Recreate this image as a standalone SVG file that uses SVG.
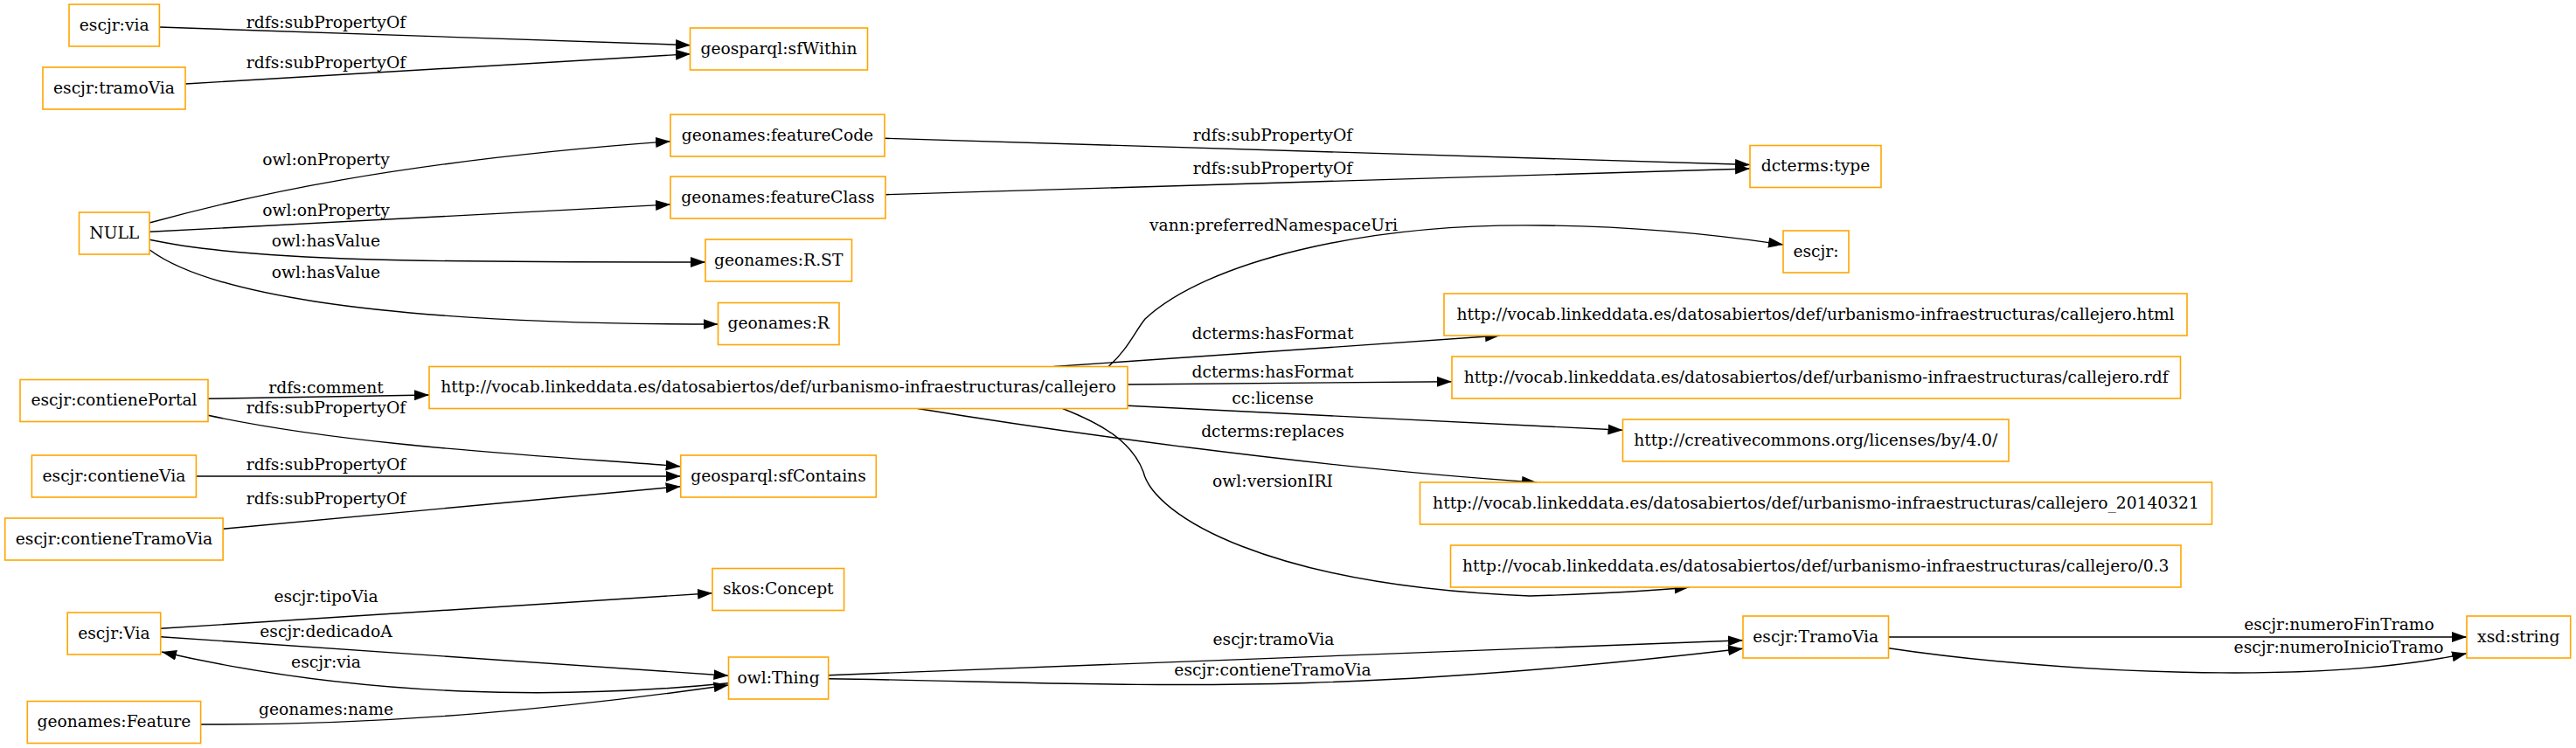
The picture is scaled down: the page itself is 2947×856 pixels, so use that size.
<svg xmlns="http://www.w3.org/2000/svg" width="2947" height="856" viewBox="0 0 2947 856">
<defs>
<marker id="ah" markerUnits="userSpaceOnUse" markerWidth="18" markerHeight="13" refX="17" refY="6" orient="auto">
<path d="M0,0 L17,6 L0,12 z" fill="#000"/>
</marker>
<style>
.n rect{fill:#fff;stroke:#FFA500;stroke-width:1.6}
text{font-family:"DejaVu Serif","Liberation Serif",serif;font-size:18.7px;fill:#000;text-anchor:middle}
.e path{fill:none;stroke:#000;stroke-width:1.4;marker-end:url(#ah)}
</style>
</defs>
<rect width="2947" height="856" fill="#fff"/>
<g id="edges" class="e">
<path d="M182.4,31 L790,51.7"/>
<path d="M212,96 L790,61.7"/>
<path d="M171,255 C280,225 450,185 767,161.7"/>
<path d="M171,265.3 L767,234"/>
<path d="M171,274.3 C290,300 500,300 807,300"/>
<path d="M171,285.7 C230,330 400,371 821.5,371"/>
<path d="M1012,158.3 L2002,188.5"/>
<path d="M1013,222.7 L2002,193"/>
<path d="M1268,419.5 C1290,400 1298,380 1310,365 C1380,300 1560,255 1765,258 C1870,259 1960,268 2040,280"/>
<path d="M1205.4,419.5 L1716,384"/>
<path d="M1290,440 L1661,436.7"/>
<path d="M1290,464.3 L1856.5,492.3"/>
<path d="M1049.7,467.5 C1200,492 1500,535 1758,552"/>
<path d="M1215.6,467.5 C1260,485 1295,505 1308,540 C1320,590 1450,670 1750,682 C1820,680 1880,677 1932.5,672"/>
<path d="M238,456.3 L491,452"/>
<path d="M238,475.3 C400,510 600,520 778.7,533.7"/>
<path d="M224.5,545 L778.7,545"/>
<path d="M255,605.3 L778.7,556.7"/>
<path d="M183.7,719.3 L815,678.7"/>
<path d="M183.7,728.7 L833.5,773.3"/>
<path d="M833.5,781.7 C650,800 420,800 185,746"/>
<path d="M229.6,829 C450,830 650,810 833.5,784"/>
<path d="M947.7,772.7 L1994,732.7"/>
<path d="M947.7,776.7 C1300,782 1500,800 1994,742.3"/>
<path d="M2160.5,729 L2822,729"/>
<path d="M2160.5,741.7 C2350,770 2650,785 2822,747.7"/>
<text x="373" y="31.5">rdfs:subPropertyOf</text>
<text x="373" y="77.5">rdfs:subPropertyOf</text>
<text x="373" y="189">owl:onProperty</text>
<text x="373" y="246.5">owl:onProperty</text>
<text x="373" y="281.5">owl:hasValue</text>
<text x="373" y="317.5">owl:hasValue</text>
<text x="1456" y="160.5">rdfs:subPropertyOf</text>
<text x="1456" y="199">rdfs:subPropertyOf</text>
<text x="1457" y="263.5">vann:preferredNamespaceUri</text>
<text x="1456" y="387.5">dcterms:hasFormat</text>
<text x="1456" y="431.7">dcterms:hasFormat</text>
<text x="1456" y="461.7">cc:license</text>
<text x="1456" y="499.5">dcterms:replaces</text>
<text x="1456" y="556.5">owl:versionIRI</text>
<text x="373" y="450">rdfs:comment</text>
<text x="373" y="473">rdfs:subPropertyOf</text>
<text x="373" y="538">rdfs:subPropertyOf</text>
<text x="373" y="577">rdfs:subPropertyOf</text>
<text x="373" y="689">escjr:tipoVia</text>
<text x="373" y="729">escjr:dedicadoA</text>
<text x="373" y="764">escjr:via</text>
<text x="373" y="818">geonames:name</text>
<text x="1457" y="737.5">escjr:tramoVia</text>
<text x="1456" y="772.5">escjr:contieneTramoVia</text>
<text x="2676" y="721">escjr:numeroFinTramo</text>
<text x="2675.5" y="746.5">escjr:numeroInicioTramo</text>
</g>
<g id="n_via" class="n"><rect x="79" y="5" width="103.4" height="48"/><text x="130.7" y="34.5">escjr:via</text></g>
<g id="n_tramoViaProp" class="n"><rect x="49" y="77" width="163" height="48"/><text x="130.5" y="106.5">escjr:tramoVia</text></g>
<g id="n_sfWithin" class="n"><rect x="789.5" y="32" width="203" height="48"/><text x="891" y="61.5">geosparql:sfWithin</text></g>
<g id="n_featureCode" class="n"><rect x="767" y="131" width="245" height="48"/><text x="889.5" y="160.5">geonames:featureCode</text></g>
<g id="n_featureClass" class="n"><rect x="767" y="202" width="246" height="48"/><text x="890" y="231.5">geonames:featureClass</text></g>
<g id="n_null" class="n"><rect x="90.5" y="243" width="80.5" height="48"/><text x="130.75" y="272.5">NULL</text></g>
<g id="n_rst" class="n"><rect x="807" y="274" width="167.5" height="48"/><text x="890.7" y="303.5">geonames:R.ST</text></g>
<g id="n_r" class="n"><rect x="821.5" y="346.5" width="138.5" height="48"/><text x="890.7" y="376">geonames:R</text></g>
<g id="n_dctype" class="n"><rect x="2002" y="166.5" width="150" height="48"/><text x="2077" y="196">dcterms:type</text></g>
<g id="n_escjr" class="n"><rect x="2040" y="264" width="75" height="48"/><text x="2077.5" y="293.5">escjr:</text></g>
<g id="n_callejero" class="n"><rect x="491" y="419.5" width="799" height="48"/><text x="890.5" y="449">http://vocab.linkeddata.es/datosabiertos/def/urbanismo-infraestructuras/callejero</text></g>
<g id="n_html" class="n"><rect x="1652" y="336" width="850" height="48"/><text x="2077" y="365.5">http://vocab.linkeddata.es/datosabiertos/def/urbanismo-infraestructuras/callejero.html</text></g>
<g id="n_rdf" class="n"><rect x="1661" y="408" width="833.5" height="48"/><text x="2077.7" y="437.5">http://vocab.linkeddata.es/datosabiertos/def/urbanismo-infraestructuras/callejero.rdf</text></g>
<g id="n_cc" class="n"><rect x="1856.5" y="480" width="441.5" height="48"/><text x="2077.25" y="509.5">http://creativecommons.org/licenses/by/4.0/</text></g>
<g id="n_old" class="n"><rect x="1624.5" y="552" width="906" height="48"/><text x="2077.5" y="581.5">http://vocab.linkeddata.es/datosabiertos/def/urbanismo-infraestructuras/callejero_20140321</text></g>
<g id="n_v03" class="n"><rect x="1659.5" y="624" width="835.5" height="48"/><text x="2077.25" y="653.5">http://vocab.linkeddata.es/datosabiertos/def/urbanismo-infraestructuras/callejero/0.3</text></g>
<g id="n_contienePortal" class="n"><rect x="23" y="434.5" width="215" height="48"/><text x="130.5" y="464">escjr:contienePortal</text></g>
<g id="n_sfContains" class="n"><rect x="778.7" y="521" width="223.6" height="48"/><text x="890.5" y="550.5">geosparql:sfContains</text></g>
<g id="n_contieneVia" class="n"><rect x="36.4" y="521" width="188" height="48"/><text x="130.4" y="550.5">escjr:contieneVia</text></g>
<g id="n_contieneTramoVia" class="n"><rect x="5.7" y="593" width="249.4" height="48"/><text x="130.4" y="622.5">escjr:contieneTramoVia</text></g>
<g id="n_concept" class="n"><rect x="815" y="650.5" width="150.6" height="48"/><text x="890.3" y="680">skos:Concept</text></g>
<g id="n_Via" class="n"><rect x="77.2" y="701" width="106.5" height="48"/><text x="130.45" y="730.5">escjr:Via</text></g>
<g id="n_thing" class="n"><rect x="833.5" y="752" width="114.2" height="48"/><text x="890.6" y="781.5">owl:Thing</text></g>
<g id="n_feature" class="n"><rect x="31.3" y="802.5" width="198.3" height="48"/><text x="130.45" y="832">geonames:Feature</text></g>
<g id="n_TramoVia" class="n"><rect x="1994" y="705" width="166.5" height="48"/><text x="2077.25" y="734.5">escjr:TramoVia</text></g>
<g id="n_string" class="n"><rect x="2822" y="705" width="118.7" height="48"/><text x="2881.3" y="734.5">xsd:string</text></g>
</svg>
